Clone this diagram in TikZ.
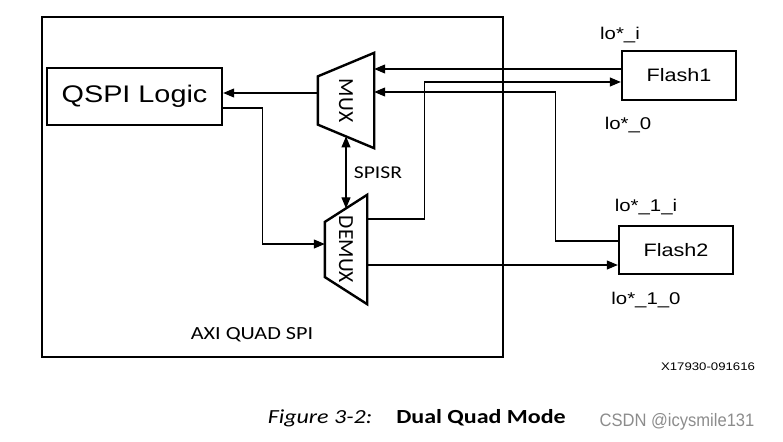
\documentclass[tikz,border=0pt]{standalone}
\usepackage{fontspec}
\usetikzlibrary{arrows.meta, positioning, calc}
\newfontfamily\arialfont{Liberation Sans}[FakeStretch=1.2]
\newfontfamily\calibrifont{Carlito}[FakeStretch=1.2]
\newfontfamily\calibrirot{Carlito}
\newfontfamily\markfont{Liberation Sans}[FakeStretch=0.92]
\tikzset{
    block/.style={rectangle, draw, line width=2.4pt, inner sep=0pt},
    muxbox/.style={rectangle, rotate=-90, inner sep=0pt, font=\calibrirot\fontsize{21.5}{23}\selectfont,
        append after command={\pgfextra{\draw[line width=2.4pt, line join=miter]
            ($(\tikzlastnode.south west)!#1!(\tikzlastnode.south east)$) -- (\tikzlastnode.north west)
            -- (\tikzlastnode.north east) -- ($(\tikzlastnode.south east)!#1!(\tikzlastnode.south west)$)
            -- cycle;}}},
    arrow/.style={-{Triangle[length=11pt,width=9pt]}, line width=1.1pt},
    dblarrow/.style={{Triangle[length=11pt,width=9pt]}-{Triangle[length=11pt,width=9pt]}, line width=1.1pt},
    pinlabel/.style={font=\arialfont\fontsize{17}{19}\selectfont}
}
\begin{document}
\begin{tikzpicture}[x=1pt, y=-1pt]
            \useasboundingbox (0,0) rectangle (783,441);
            \node (axi) [block, minimum width=461pt, minimum height=340pt] at (272.5,187) {};
            \node (axilabel) [font=\calibrifont\fontsize{18.5}{20}\selectfont] at (252,335) {AXI QUAD SPI};
            \node (qspi) [block, minimum width=175pt, minimum height=57pt, font=\arialfont\fontsize{24}{26}\selectfont] at (134.5,96.5) {QSPI Logic};
            \node (mux) [muxbox=0.247, minimum width=95pt, minimum height=56pt] at (346,100.5) {MUX};
            \node (demux) [muxbox=0.248, minimum width=109pt, minimum height=42pt] at (346,249.5) {DEMUX};
            \node (flash1) [block, minimum width=114pt, minimum height=49pt, font=\arialfont\fontsize{18}{20}\selectfont] at (679,75.5) {Flash1};
            \node (flash2) [block, minimum width=114pt, minimum height=48pt, font=\arialfont\fontsize{18}{20}\selectfont] at (676,250) {Flash2};
            
            \draw[arrow] ([yshift=7.5pt]mux.south) -- ([yshift=7.5pt]mux.south -| qspi.east);
            \draw[arrow] ([yshift=-11.5pt]qspi.east) -- ++(39,0) |- ([yshift=5.5pt]demux.south);
            \draw[arrow] ([yshift=6.5pt]flash1.west) -- ([yshift=6.5pt]flash1.west -| mux.north);
            \draw[arrow] ([yshift=9pt]flash2.west) -- ++(-62,0) |- ([yshift=8.5pt]mux.north);
            \draw[arrow] ([yshift=30.5pt]demux.north) -- ++(57,0) |- ([yshift=-6.5pt]flash1.west);
            \draw[arrow] ([yshift=-15.5pt]demux.north) -- ([yshift=-15.5pt]demux.north -| flash2.west);
            \draw[dblarrow] ($(mux.east)!0.1235!(mux.west)$) -- ($(demux.west)!0.124!(demux.east)$);
            \node (spisr) [font=\calibrifont\fontsize{18}{20}\selectfont] at (378,173) {SPISR};
            
            \node (io0i) [pinlabel] at (620,35) {lo*\_i};
            \node (io0o) [pinlabel] at (628,125) {lo*\_0};
            \node (io1i) [pinlabel] at (646,207) {lo*\_1\_i};
            \node (io1o) [pinlabel] at (646,300) {lo*\_1\_0};
            \node (figid) [font=\arialfont\fontsize{11}{13}\selectfont] at (708,367) {X17930-091616};
            \node (capnum) [font=\calibrifont\itshape\fontsize{20}{22}\selectfont] at (320,418) {Figure 3-2:};
            \node (captext) [font=\calibrifont\bfseries\fontsize{20}{22}\selectfont] at (481,418) {Dual Quad Mode};
            \node (mark) [font=\markfont\fontsize{18}{20}\selectfont, text=black!45] at (677,422) {CSDN @icysmile131};
        \end{tikzpicture}
\end{document}
